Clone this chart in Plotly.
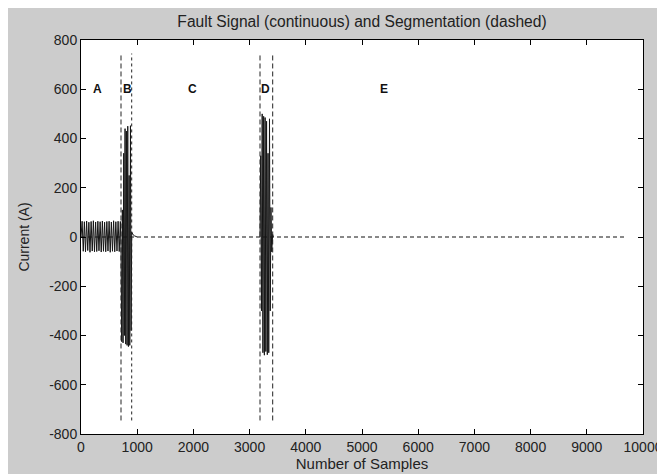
import plotly.graph_objects as go

# ---- data ----
# fault signal (peak/trough samples of the visible strokes)
seg_A_samples = [0, 20, 40, 60, 80, 100, 120, 140, 160, 180, 200, 220, 240, 260, 280, 300, 320, 340,
                 360, 380, 400, 420, 440, 460, 480, 500, 520, 540, 560, 580, 600, 620, 640, 660, 680, 700, 712]
seg_A_current = [0, 64, -58, 62, -60, 65, -55, 60, -62, 63, -57, 66, -60, 61, -59, 64, -56, 62,
                 -61, 65, -58, 60, -60, 63, -57, 64, -62, 61, -58, 66, -60, 62, -57, 64, -59, 63, -40]
seg_B_samples = [724, 736, 748, 760, 772, 784, 796, 808, 820, 832, 844, 856, 868, 880, 892, 902,
                 915, 930, 950, 980, 1000]
seg_B_current = [-425, 110, -430, 340, -400, 440, -435, 430, -440, 450, -445, 250, -440, 452, -380, 20,
                 12, 8, 5, 2, 0]
seg_D_samples = [3185, 3198, 3211, 3224, 3237, 3250, 3263, 3276, 3289, 3302, 3315, 3328, 3341, 3354,
                 3367, 3380, 3393, 3411, 3420]
seg_D_current = [0, 330, -300, 500, -470, 490, -480, 485, -465, 470, -478, 340, -470, 480,
                 -300, 120, -60, 10, 0]

# segmentation
boundaries = [712, 902, 3185, 3411]
boundary_extent = [-745, 745]
zero_line_samples = [0, 9700]
zero_line_current = [0, 0]
segment_labels = ["A", "B", "C", "D", "E"]
label_samples = [300, 820, 1990, 3290, 5390]
label_current = [600, 600, 600, 600, 600]

x_ticks = [0, 1000, 2000, 3000, 4000, 5000, 6000, 7000, 8000, 9000, 10000]
y_ticks = [-800, -600, -400, -200, 0, 200, 400, 600, 800]

# ---- figure ----
FONT = "Liberation Sans, Arial, sans-serif"
GRAY = "#cccccc"
TXT = "#222222"
fig = go.Figure()

fig.add_trace(go.Scatter(x=zero_line_samples, y=zero_line_current, mode="lines",
                         line=dict(color="#111111", width=1, dash="4px,3px"),
                         hoverinfo="skip", showlegend=False))

sig_x = seg_A_samples + seg_B_samples + [None] + seg_D_samples
sig_y = seg_A_current + seg_B_current + [None] + seg_D_current
fig.add_trace(go.Scatter(x=sig_x, y=sig_y, mode="lines",
                         line=dict(color="#151515", width=1),
                         connectgaps=False, showlegend=False))

dash_styles = ["5px,3px", "3px,3px", "5px,3px", "5px,3px"]
for b, ds in zip(boundaries, dash_styles):
    fig.add_trace(go.Scatter(x=[b, b], y=boundary_extent, mode="lines",
                             line=dict(color="#222222", width=1, dash=ds),
                             hoverinfo="skip", showlegend=False))

for t, xs, ys in zip(segment_labels, label_samples, label_current):
    fig.add_annotation(x=xs, y=ys, xref="x", yref="y", text="<b>%s</b>" % t,
                       showarrow=False, font=dict(family=FONT, size=12, color="#111111"))

W, H = 657, 466
L, R, T, B = 73, 22, 32, 40

axis_common = dict(showgrid=False, zeroline=False, showline=True, linecolor="#000000",
                   linewidth=1, mirror="ticks", ticks="inside", ticklen=5,
                   tickcolor="#000000", tickfont=dict(family=FONT, size=14, color=TXT))

fig.update_xaxes(range=[0, 10000], tickvals=x_ticks, ticktext=[str(v) for v in x_ticks],
                 title=dict(text="Number of Samples", standoff=3,
                            font=dict(family=FONT, size=15, color=TXT)),
                 **axis_common)
fig.update_yaxes(range=[-800, 800], tickvals=y_ticks, ticktext=[str(v) for v in y_ticks],
                 title=dict(text="Current (A)", standoff=16,
                            font=dict(family=FONT, size=14, color=TXT)),
                 **axis_common)

fig.update_layout(
    width=W, height=H,
    margin=dict(l=L, r=R, t=T, b=B, autoexpand=False),
    paper_bgcolor=GRAY, plot_bgcolor="white",
    title=dict(text="Fault Signal (continuous) and Segmentation (dashed)",
               x=(L + (W - L - R) / 2) / W, xanchor="center", y=1 - 14 / H, yanchor="middle",
               font=dict(family=FONT, size=15.6, color=TXT)),
    showlegend=False,
)

fig.write_html("out.html")
